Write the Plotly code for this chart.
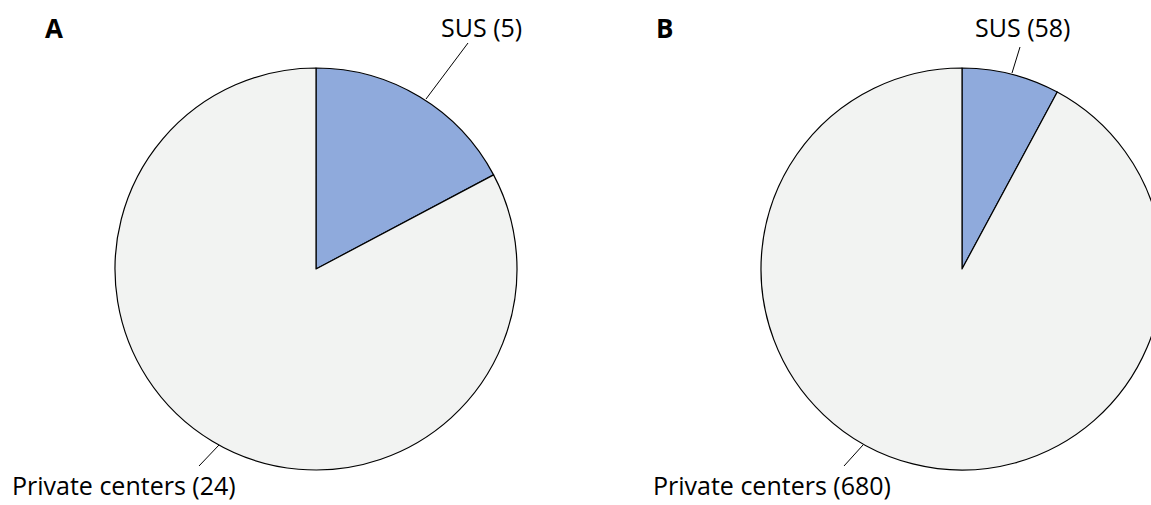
import plotly.graph_objects as go

# ---- data ----
categories = ["SUS", "Private centers"]
values_a = [5, 24]
values_b = [58, 680]
panel_labels = ["A", "B"]

colors = ["#8FAADC", "#F2F3F2"]

W, H = 1175, 505


def px(x):
    return x / W


def py(y):
    return 1 - y / H


fig = go.Figure()

pies = [
    (values_a, [115, 517]),
    (values_b, [761, 1163]),
]
for vals, (x0, x1) in pies:
    fig.add_trace(go.Pie(
        labels=categories,
        values=vals,
        sort=False,
        direction="clockwise",
        rotation=0,
        textinfo="none",
        hoverinfo="label+value",
        marker=dict(colors=colors, line=dict(color="black", width=1.2)),
        domain=dict(x=[px(x0), px(x1)], y=[py(470), py(68)]),
        showlegend=False,
    ))

font_family = "'Open Sans', Lato, sans-serif"

# label texts: (text, x, y, xanchor, yanchor)
label_specs = [
    (f"{categories[0]} ({values_a[0]})", 481, 27, "center", "middle"),
    (f"{categories[1]} ({values_a[1]})", 10, 504, "left", "bottom"),
    (f"{categories[0]} ({values_b[0]})", 1022, 27, "center", "middle"),
    (f"{categories[1]} ({values_b[1]})", 651, 504, "left", "bottom"),
]
for text, x, y, xanc, yanc in label_specs:
    fig.add_annotation(
        x=px(x), y=py(y), xref="paper", yref="paper",
        text=text, showarrow=False, xanchor=xanc, yanchor=yanc,
        font=dict(family=font_family, size=25, color="#000000"),
    )

# panel letters
for letter, x in zip(panel_labels, [54, 664]):
    fig.add_annotation(
        x=px(x), y=py(28), xref="paper", yref="paper",
        text=f"<b>{letter}</b>", showarrow=False, xanchor="center", yanchor="middle",
        font=dict(family=font_family, size=26, color="#000000"),
    )

# leader lines
leaders = [
    ((468, 43), (426, 99)),
    ((199, 466), (219, 445)),
    ((1020, 47), (1012, 73)),
    ((844, 466), (863, 445)),
]
for (xa, ya), (xb, yb) in leaders:
    fig.add_shape(
        type="line", xref="paper", yref="paper",
        x0=px(xa), y0=py(ya), x1=px(xb), y1=py(yb),
        line=dict(color="black", width=1),
    )

fig.update_layout(
    width=W, height=H,
    margin=dict(l=0, r=0, t=0, b=0),
    paper_bgcolor="white",
    plot_bgcolor="white",
)

fig.write_html(
    "out.html",
    config={"displayModeBar": False},
    post_script="document.body.style.margin='0';document.body.style.overflow='hidden';",
)
